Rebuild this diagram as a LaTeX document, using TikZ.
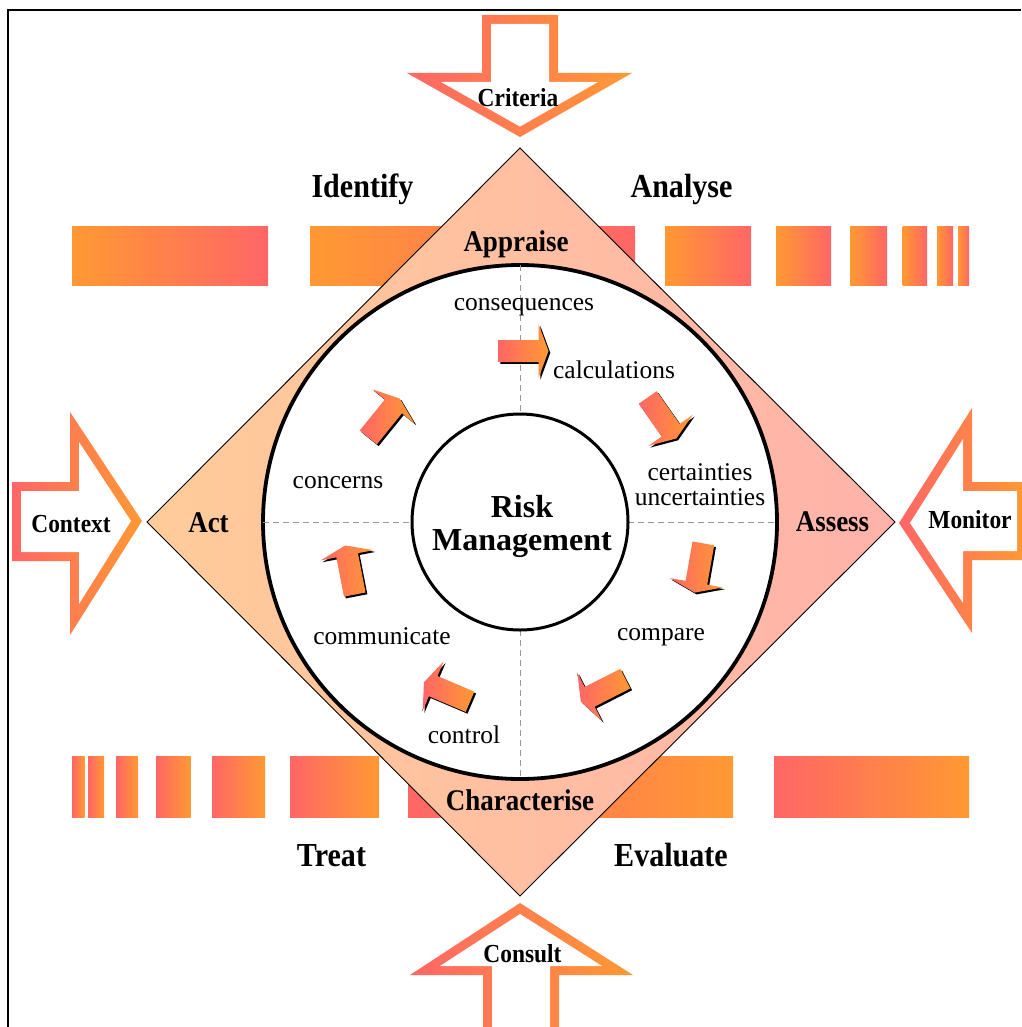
\documentclass[tikz,border=0pt]{standalone}
\usepackage{fontspec}
\setmainfont{Liberation Serif}
\definecolor{rorange}{RGB}{255,153,51}
\definecolor{rred}{RGB}{255,102,102}
\definecolor{dpeach}{RGB}{255,204,153}
\definecolor{dpink}{RGB}{255,178,170}
\newcommand\riskarrow[3]{%
  \begin{scope}[shift={(#1+1.8,#2+1.8)},rotate=#3]
    \fill[black] (-25,-11) -- (15,-11) -- (15,-27) -- (25,0) -- (15,27) -- (15,11) -- (-25,11) -- cycle;
  \end{scope}
  \begin{scope}[shift={(#1,#2)},rotate=#3]
    \shade[left color=rred,right color=rorange] (-25,-11) -- (15,-11) -- (15,-27) -- (25,0) -- (15,27) -- (15,11) -- (-25,11) -- cycle;
  \end{scope}}
\tikzset{
  sidelbl/.style={font=\fontsize{32}{32}\selectfont\bfseries, xscale=0.94, yscale=1.05, anchor=base, inner sep=0pt},
  cornerlbl/.style={font=\fontsize{30}{30}\selectfont\bfseries, xscale=0.9, anchor=base, inner sep=0pt},
  arrowlbl/.style={font=\fontsize{26}{26}\selectfont\bfseries, xscale=0.9, anchor=base, inner sep=0pt},
  ringlbl/.style={font=\fontsize{25.5}{25}\selectfont, anchor=base, inner sep=0pt, align=center},
  guide/.style={draw=black!40, line width=0.8pt, dash pattern=on 6pt off 4pt},
  bigarrow/.style={left color=rred, right color=rorange},
  topbar/.style={left color=rorange, right color=rred},
  botbar/.style={left color=rred, right color=rorange}
}
\begin{document}
\begin{tikzpicture}[x=1pt,y=-1pt]
\useasboundingbox (0,0) rectangle (1021,1027);
\fill[white] (0,0) rectangle (1021,1027);
% frame
\draw[line width=2pt] (8,1027) -- (8,10) -- (1021,10);
% bars
\foreach \a/\b in {72/268, 310/635, 665/751, 776/831, 850/887, 902.5/927, 937/953, 958/969}
  \shade[topbar] (\a,226) rectangle (\b,285);
\foreach \a/\b in {72/84.5, 88/104, 116/138, 156/190.5, 212/265, 290/379, 408/733, 774/969}
  \shade[botbar] (\a,756) rectangle (\b,817);
% diamond
\shade[left color=dpeach, right color=dpink] (520,148) -- (895,522) -- (520,896) -- (147,522) -- cycle;
\draw[line width=0.9pt] (520,148) -- (895,522) -- (520,896) -- (147,522) -- cycle;
% circles
\draw[line width=3.8pt, fill=white] (520,522) circle[radius=257];
\draw[guide] (263,522) -- (412,522);
\draw[guide] (628,522) -- (777,522);
\draw[guide] (520,265) -- (520,414);
\draw[guide] (520,630) -- (520,779);
\draw[line width=3pt, fill=white] (520,522) circle[radius=108];
% small arrows
\riskarrow{523.5}{351}{0}
\riskarrow{662}{418}{-55}
\riskarrow{699}{568}{-100}
\riskarrow{603}{690}{207}
\riskarrow{447}{692}{157}
\riskarrow{350}{570}{101}
\riskarrow{384}{418}{51}
% labels
\node[sidelbl] (identify) at (362.5,197) {Identify};
\node[sidelbl] (analyse) at (681.5,197) {Analyse};
\node[sidelbl] (treat) at (331.5,866) {Treat};
\node[sidelbl] (evaluate) at (671,866) {Evaluate};
\node[cornerlbl] (appraise) at (516,251) {Appraise};
\node[cornerlbl] (characterise) at (520,810) {Characterise};
\node[cornerlbl] (act) at (208.5,532) {Act};
\node[cornerlbl] (assess) at (832.5,531) {Assess};
\node[font=\fontsize{32}{33}\selectfont\bfseries, anchor=base, inner sep=0pt, align=center] (rm) at (522,550) {Risk\\Management};
\node[ringlbl] (consequences) at (524,310) {consequences};
\node[ringlbl] (calculations) at (614,378) {calculations};
\node[ringlbl] (certainties) at (700,505) {certainties\\uncertainties};
\node[ringlbl] (compare) at (661,640) {compare};
\node[ringlbl] (control) at (464,743) {control};
\node[ringlbl] (communicate) at (382,644) {communicate};
\node[ringlbl] (concerns) at (338,488) {concerns};
% big arrows
\shade[bigarrow] (482,15) -- (558,15) -- (558,73) -- (632,73) -- (520,137) -- (407,73) -- (482,73) -- cycle;
\fill[white] (491,24) -- (549,24) -- (549,82) -- (598,82) -- (520,126.6) -- (441,82) -- (491,82) -- cycle;
\shade[bigarrow] (12,482) -- (70,482) -- (70,412) -- (142,521) -- (70,635) -- (70,561) -- (12,561) -- cycle;
\fill[white] (21,491) -- (79,491) -- (79,442) -- (131,521) -- (79,604) -- (79,552) -- (21,552) -- cycle;
\shade[bigarrow] (1026,482) -- (972,482) -- (972,408) -- (899,523) -- (972,633) -- (972,560) -- (1026,560) -- cycle;
\fill[white] (1017,491) -- (963,491) -- (963,439) -- (910,523) -- (963,603) -- (963,551) -- (1017,551) -- cycle;
\shade[bigarrow] (483,1035) -- (483,975) -- (410,975) -- (520,903) -- (633,975) -- (559,975) -- (559,1035) -- cycle;
\fill[white] (492,1035) -- (492,966) -- (440,966) -- (520,914) -- (602,966) -- (550,966) -- (550,1035) -- cycle;
\node[arrowlbl] (criteria) at (518,107) {Criteria};
\node[arrowlbl] (context) at (71,532) {Context};
\node[arrowlbl] (monitor) at (970,528) {Monitor};
\node[arrowlbl] (consult) at (522.5,962) {Consult};
\end{tikzpicture}
\end{document}
